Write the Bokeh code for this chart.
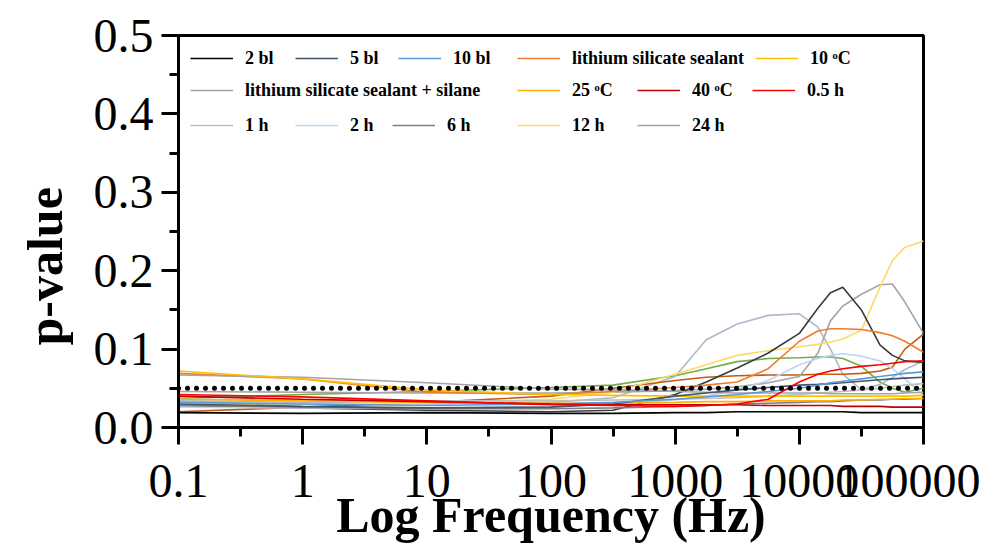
import math
from bokeh.plotting import figure
from bokeh.models import (Legend, LegendItem, Title, Span, FixedTicker,
                          PrintfTickFormatter)
from bokeh.embed import file_html
from bokeh.resources import INLINE

# ---------------- data ----------------
FREQ_HZ = [0.1, 1, 10, 100, 316, 1000, 1780, 3160, 5620, 10000,
           14100, 17800, 22400, 31600, 44700, 56200, 70800, 100000]

P_2BL = [0.019, 0.018, 0.019, 0.018, 0.018, 0.019, 0.019, 0.020, 0.020, 0.020, 0.020, 0.020, 0.020, 0.019, 0.019, 0.019, 0.019, 0.019]
P_5BL = [0.030, 0.027, 0.025, 0.026, 0.030, 0.040, 0.044, 0.048, 0.051, 0.054, 0.055, 0.056, 0.057, 0.059, 0.061, 0.062, 0.063, 0.064]
P_10BL = [0.032, 0.030, 0.028, 0.030, 0.032, 0.036, 0.039, 0.042, 0.046, 0.050, 0.054, 0.057, 0.059, 0.062, 0.065, 0.067, 0.069, 0.071]
P_LSS = [0.069, 0.062, 0.045, 0.042, 0.046, 0.051, 0.054, 0.058, 0.075, 0.110, 0.123, 0.126, 0.126, 0.125, 0.121, 0.117, 0.110, 0.096]
P_10C = [0.072, 0.062, 0.048, 0.042, 0.041, 0.040, 0.040, 0.040, 0.040, 0.040, 0.040, 0.040, 0.040, 0.040, 0.040, 0.040, 0.040, 0.041]
P_LSS_SILANE = [0.067, 0.064, 0.057, 0.049, 0.048, 0.046, 0.045, 0.044, 0.044, 0.044, 0.044, 0.043, 0.043, 0.043, 0.043, 0.043, 0.044, 0.045]
P_25C = [0.036, 0.034, 0.032, 0.031, 0.031, 0.032, 0.033, 0.033, 0.034, 0.034, 0.034, 0.034, 0.035, 0.035, 0.036, 0.036, 0.037, 0.037]
P_40C = [0.040, 0.036, 0.033, 0.030, 0.029, 0.029, 0.029, 0.029, 0.028, 0.028, 0.028, 0.028, 0.027, 0.027, 0.027, 0.026, 0.026, 0.026]
P_05H = [0.042, 0.039, 0.034, 0.029, 0.028, 0.027, 0.028, 0.030, 0.036, 0.058, 0.068, 0.072, 0.075, 0.078, 0.080, 0.082, 0.084, 0.085]
P_1H = [0.036, 0.035, 0.034, 0.034, 0.035, 0.036, 0.037, 0.038, 0.040, 0.042, 0.044, 0.045, 0.046, 0.048, 0.050, 0.052, 0.054, 0.056]
P_2H = [0.026, 0.025, 0.024, 0.027, 0.030, 0.035, 0.040, 0.048, 0.060, 0.080, 0.088, 0.092, 0.094, 0.091, 0.085, 0.075, 0.062, 0.041]
P_6H = [0.028, 0.026, 0.024, 0.024, 0.025, 0.027, 0.028, 0.030, 0.031, 0.032, 0.033, 0.033, 0.034, 0.035, 0.035, 0.036, 0.036, 0.037]
P_12H = [0.030, 0.030, 0.031, 0.036, 0.045, 0.068, 0.080, 0.092, 0.098, 0.103, 0.106, 0.109, 0.113, 0.124, 0.179, 0.213, 0.230, 0.238]
P_24H = [0.046, 0.045, 0.044, 0.044, 0.045, 0.047, 0.049, 0.052, 0.057, 0.065, 0.095, 0.136, 0.155, 0.170, 0.182, 0.183, 0.160, 0.120]
# curves drawn in the chart without a legend entry
P_GREEN = [0.037, 0.042, 0.046, 0.051, 0.054, 0.066, 0.075, 0.084, 0.088, 0.089, 0.090, 0.090, 0.088, 0.078, 0.058, 0.050, 0.045, 0.050]
P_BLUEGRAY = [0.034, 0.032, 0.030, 0.032, 0.038, 0.065, 0.112, 0.132, 0.143, 0.145, 0.128, 0.100, 0.068, 0.048, 0.055, 0.064, 0.074, 0.085]
P_DARKORANGE = [0.020, 0.026, 0.032, 0.040, 0.050, 0.060, 0.064, 0.066, 0.067, 0.067, 0.068, 0.068, 0.068, 0.069, 0.072, 0.077, 0.100, 0.119]
P_DARKPEAK = [0.028, 0.025, 0.022, 0.020, 0.022, 0.042, 0.058, 0.076, 0.095, 0.120, 0.152, 0.172, 0.179, 0.150, 0.105, 0.092, 0.085, 0.083]

THRESHOLD = 0.05

X_TICKS = [0.1, 1, 10, 100, 1000, 10000, 100000]
Y_TICKS = [0.0, 0.1, 0.2, 0.3, 0.4, 0.5]

LEGEND_ROW1 = ["2 bl", "5 bl", "10 bl", "lithium silicate sealant", "10 \u1d52C"]
LEGEND_ROW2 = ["lithium silicate sealant + silane", "25 \u1d52C", "40 \u1d52C", "0.5 h"]
LEGEND_ROW3 = ["1 h", "2 h", "6 h", "12 h", "24 h"]

# label, colour, values
SERIES = [
    ("_green", "#70AD47", P_GREEN),
    ("_bluegray", "#ADB9CA", P_BLUEGRAY),
    ("_darkorange", "#C55A11", P_DARKORANGE),
    ("24 h", "#A5A5A5", P_24H),
    ("12 h", "#FFD966", P_12H),
    ("_darkpeak", "#3A3A3A", P_DARKPEAK),
    ("lithium silicate sealant", "#ED7D31", P_LSS),
    ("2 h", "#BDD7EE", P_2H),
    ("6 h", "#7F7F7F", P_6H),
    ("1 h", "#BFBFBF", P_1H),
    ("lithium silicate sealant + silane", "#A5A5A5", P_LSS_SILANE),
    ("10 \u1d52C", "#FFC000", P_10C),
    ("25 \u1d52C", "#FFB000", P_25C),
    ("5 bl", "#44546A", P_5BL),
    ("10 bl", "#5B9BD5", P_10BL),
    ("40 \u1d52C", "#C00000", P_40C),
    ("0.5 h", "#FF0000", P_05H),
    ("2 bl", "#000000", P_2BL),
]

# ---------------- figure ----------------
W, H = 980, 545
FL, FT, FW, FH = 178, 35, 745, 392   # frame placement inside the canvas

p = figure(width=W, height=H, x_axis_type="log",
           x_range=(0.1, 100000), y_range=(0, 0.5),
           output_backend="svg", toolbar_location=None,
           min_border_left=FL, min_border_top=FT,
           min_border_right=W - FL - FW, min_border_bottom=H - FT - FH)
p.background_fill_color = "white"
p.border_fill_color = "white"
p.grid.visible = False
p.outline_line_color = "black"
p.outline_line_width = 3

SERIF = "Liberation Serif"

renderers = {}
for label, color, vals in SERIES:
    r = p.line(FREQ_HZ, vals, line_color=color, line_width=1.6)
    renderers[label] = r

p.add_layout(Span(location=THRESHOLD, dimension="width", line_color="black",
                  line_width=5, line_dash="0 9", line_cap="round"))

# axes
p.xaxis.ticker = FixedTicker(ticks=X_TICKS,
                             minor_ticks=[10 ** (k + 0.5) for k in range(-1, 5)])
p.xaxis.formatter = PrintfTickFormatter(format="%g")
p.yaxis.ticker = FixedTicker(ticks=Y_TICKS,
                             minor_ticks=[0.05, 0.15, 0.25, 0.35, 0.45])
p.yaxis.formatter = PrintfTickFormatter(format="%.1f")
for ax in (p.xaxis[0], p.yaxis[0]):
    ax.axis_line_width = 3
    ax.major_tick_line_width = 3
    ax.minor_tick_line_width = 3
    ax.major_tick_out = 17
    ax.major_tick_in = 0
    ax.minor_tick_out = 9
    ax.minor_tick_in = 0
    ax.major_label_text_font = SERIF
    ax.major_label_text_font_size = "48px"
    ax.major_label_text_color = "black"
p.xaxis.major_label_standoff = 20
p.yaxis.major_label_standoff = 8

p.xaxis.axis_label = "Log Frequency (Hz)"
p.xaxis.axis_label_text_font = SERIF
p.xaxis.axis_label_text_font_style = "bold"
p.xaxis.axis_label_text_font_size = "50px"
p.xaxis.axis_label_text_color = "black"
p.xaxis.axis_label_standoff = -13

p.add_layout(Title(text="p-value", align="left", offset=82, standoff=31,
                   vertical_align="top",
                   text_font=SERIF, text_font_style="bold",
                   text_font_size="50px", text_color="black"), "left")

# legend: one small legend per entry, placed like the reference
ROW_Y = [357, 325, 290]           # bottom of each row box, px above frame bottom
ROW_X = [[12, 117, 220, 339, 577],
         [12, 339, 459, 574],
         [12, 117, 214, 339, 459]]
for labels, xs, y in zip([LEGEND_ROW1, LEGEND_ROW2, LEGEND_ROW3], ROW_X, ROW_Y):
    for lab, x in zip(labels, xs):
        lg = Legend(items=[LegendItem(label=lab, renderers=[renderers[lab]])],
                    location=(x, y), orientation="horizontal",
                    glyph_width=43, glyph_height=24, label_standoff=12,
                    padding=0, margin=0, spacing=0,
                    border_line_alpha=0, background_fill_alpha=0,
                    label_text_font=SERIF, label_text_font_style="bold",
                    label_text_font_size="18px", label_text_color="black")
        p.add_layout(lg, "center")

open("out.html", "w").write(file_html(p, INLINE))
